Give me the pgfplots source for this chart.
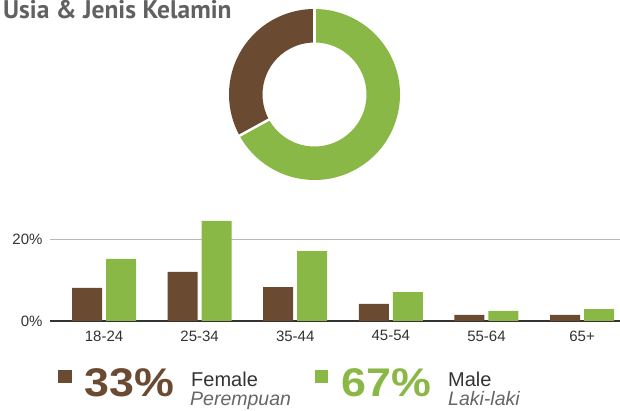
\documentclass[border=0pt]{standalone}
\usepackage{pgfplots}
\pgfplotsset{compat=1.18}
\usepackage{fontspec}
\setmainfont{Liberation Sans}
\newfontfamily\titlefont{PT Sans}
\definecolor{femc}{RGB}{107,74,50}
\definecolor{malec}{RGB}{138,184,71}
\definecolor{txtc}{RGB}{51,51,51}

\begin{document}
\begin{tikzpicture}[x=1pt,y=1pt]
\useasboundingbox (0,0) rectangle (620,411);

% title
\node[anchor=base west, inner sep=0pt, text=black!62]
  at (3,392.3) {\titlefont\bfseries\fontsize{25.5}{28}\selectfont Usia \& Jenis Kelamin};

% donut: 33% female, 67% male
\begin{axis}[
    at={(314.5pt,316.5pt)}, anchor=center,
    scale only axis, width=171pt, height=171pt,
    xmin=-85.5, xmax=85.5, ymin=-85.5, ymax=85.5,
    hide axis, clip=false,
  ]
  \pgfmathsetmacro{\femEnd}{90+3.6*33}
  \fill[femc, shift={(axis cs:0,0)}] (90:85.5pt) arc[start angle=90, end angle=\femEnd, radius=85.5pt]
    -- (\femEnd:52pt) arc[start angle=\femEnd, end angle=90, radius=52pt] -- cycle;
  \fill[malec, shift={(axis cs:0,0)}] (\femEnd:85.5pt) arc[start angle=\femEnd, end angle=450, radius=85.5pt]
    -- (450:52pt) arc[start angle=450, end angle=\femEnd, radius=52pt] -- cycle;
  \draw[white, line width=2.5pt, shift={(axis cs:0,0)}] (90:50pt) -- (90:88pt);
  \draw[white, line width=2.5pt, shift={(axis cs:0,0)}] (\femEnd:50pt) -- (\femEnd:88pt);
\end{axis}

% age bars
\begin{axis}[
    at={(50pt,90pt)}, anchor=south west,
    scale only axis, width=570pt, height=102.1pt,
    xmin=-0.565, xmax=5.397, ymin=0, ymax=25,
    axis line style={draw=none},
    major tick length=0pt,
    xtick={0,...,5},
    xticklabels={18-24,25-34,35-44,45-54,55-64,65+},
    ytick={20},
    extra y ticks={0},
    extra y tick style={grid style={draw=txtc, line width=1.2pt}},
    ymajorgrids,
    grid style={draw=black!28, line width=1pt},
    yticklabel={\pgfmathprintnumber{\tick}\%},
    /pgf/number format/assume math mode=true,
    tick label style={font=\fontsize{15}{18}\selectfont, text=txtc},
    xticklabel style={yshift=-6pt},
    yticklabel style={xshift=-4pt},
    clip=false,
  ]
  \addplot[ybar, fill=femc, draw=none, bar width=30pt, bar shift=-17pt]
    coordinates {(0,8.1) (1,12.0) (2,8.3) (3,4.2) (4,1.5) (5,1.5)};
  \addplot[ybar, fill=malec, draw=none, bar width=30pt, bar shift=17pt]
    coordinates {(0,15.2) (1,24.5) (2,17.1) (3,7.1) (4,2.45) (5,2.9)};
\end{axis}

% legend
\fill[femc] (58,28) rectangle (72,41);
\node[anchor=base west, inner sep=0pt, text=femc] at (84,14.3)
  {\scalebox{1.12}[1]{\bfseries\fontsize{40}{44}\selectfont 33\%}};
\node[anchor=base west, inner sep=0pt, text=txtc] at (191,24.3)
  {\fontsize{20}{24}\selectfont Female};
\node[anchor=base west, inner sep=0pt, text=black!60] at (190,5.3)
  {\itshape\fontsize{19.5}{22}\selectfont Perempuan};

\fill[malec] (315,28) rectangle (328,41);
\node[anchor=base west, inner sep=0pt, text=malec] at (341,14.3)
  {\scalebox{1.12}[1]{\bfseries\fontsize{40}{44}\selectfont 67\%}};
\node[anchor=base west, inner sep=0pt, text=txtc] at (448,24.3)
  {\fontsize{20}{24}\selectfont Male};
\node[anchor=base west, inner sep=0pt, text=black!60] at (448,5.3)
  {\itshape\fontsize{19.5}{22}\selectfont Laki-laki};
\end{tikzpicture}
\end{document}
